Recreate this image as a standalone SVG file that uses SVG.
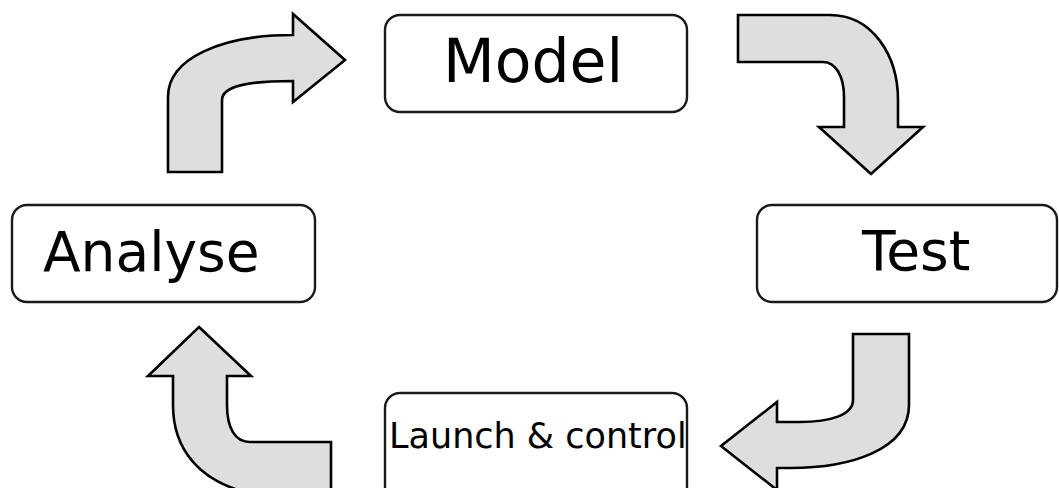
<svg xmlns="http://www.w3.org/2000/svg" width="1059" height="488" viewBox="0 0 1059 488">
<style>
.box{fill:#ffffff;stroke:#1a1a1a;stroke-width:2.4}
.arrow{fill:#dedede;stroke:#000;stroke-width:2.6;stroke-linejoin:miter}
.lbl{font-family:"DejaVu Sans",sans-serif;fill:#000}
</style>
<rect width="1059" height="488" fill="#ffffff"/>
<g id="connectors">
<path class="arrow" d="M168,172 L168,97 C168,58 222,35 293,35 L293,14 L345,60 L293,102 L293,81 C248,81 222,86 222,100 L222,172 Z"/>
<path class="arrow" d="M738,15 L830,15 C872,15 898,55 898,100 L898,127 L923,127 L871,174 L819,127 L844,127 L844,97 C844,75 835,62 823,62 L738,62 Z"/>
<path class="arrow" d="M853,334 L909,334 L909,405 C909,450 850,468 790,468 L777,468 L777,490 L721,446 L777,402 L777,422 L800,422 C830,422 853,415 853,400 Z"/>
<path class="arrow" d="M199,327 L251,376 L227,376 L227,405 C227,428 235,442 250,442 L331,442 L331,492 L245,492 C200,480 173,450 173,405 L173,376 L148,376 Z"/>
</g>
<g id="model">
<rect class="box" x="385" y="15" width="302" height="97" rx="15"/>
<text class="lbl" x="443" y="82" font-size="60">Model</text>
</g>
<g id="analyse">
<rect class="box" x="12" y="205" width="303" height="97" rx="15"/>
<text class="lbl" x="43" y="271" font-size="55">Analyse</text>
</g>
<g id="test">
<rect class="box" x="757" y="205" width="300" height="97" rx="15"/>
<text class="lbl" x="862" y="270" font-size="55">Test</text>
</g>
<g id="launch">
<rect class="box" x="385" y="393" width="302" height="110" rx="15"/>
<text class="lbl" x="389" y="448" font-size="35">Launch &amp; control</text>
</g>
</svg>
